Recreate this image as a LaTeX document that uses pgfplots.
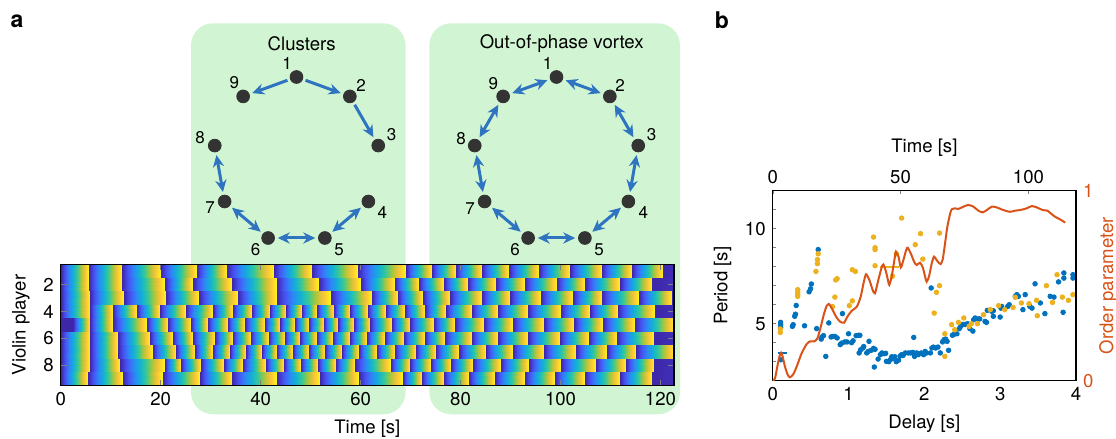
\documentclass[border=0pt]{standalone}
\usepackage{pgfplots}
\pgfplotsset{compat=1.18}
\usepackage{fontspec}
\setmainfont{TeX Gyre Heros}
\usetikzlibrary{arrows.meta}
\definecolor{matblue}{RGB}{0,114,189}
\definecolor{matyellow}{RGB}{237,177,32}
\definecolor{matorange}{RGB}{217,83,25}
\definecolor{arrowblue}{RGB}{46,116,192}
\definecolor{boxgreen}{RGB}{209,245,210}
\definecolor{nodegray}{RGB}{51,51,51}
\pgfplotsset{
  every tick label/.append style={font=\fontsize{9.3}{11}\selectfont},
  every axis label/.append style={font=\fontsize{9.3}{11}\selectfont},
  /pgf/number format/assume math mode=true,
}
\begin{document}
\begin{tikzpicture}[font=\fontsize{9.3}{11}\selectfont]
\useasboundingbox (0,0) rectangle (558pt,219.5pt);
\begin{scope}[x=0.5pt,y=-0.5pt,shift={(0pt,219.5pt)}]
\fill[boxgreen, rounded corners=11pt] (191,23.3) rectangle (405.5,414.3);
\fill[boxgreen, rounded corners=11pt] (429.3,23.3) rectangle (680,414.3);
\node[font=\fontsize{11.5}{13}\selectfont\bfseries] at (17,21) {a};
\node[font=\fontsize{11.5}{13}\selectfont\bfseries] at (722,20) {b};
\end{scope}

% ---------- network diagrams ----------
\begin{axis}[at={(0pt,0pt)}, anchor=south west, scale only axis, width=558pt, height=219.5pt,
  xmin=0, xmax=1116, ymin=0, ymax=439, y dir=reverse, hide axis, clip=false]
\addplot[quiver={u=\thisrow{u},v=\thisrow{v}}, arrows={-Stealth[length=6pt,width=5.6pt]}, arrowblue, line width=1.5pt] table {
x y u v
305.57 80.30 35.21 12.82
287.43 80.30 -35.21 12.82
354.68 104.78 18.74 32.45
};
\addplot[quiver={u=\thisrow{u},v=\thisrow{v}}, arrows={Stealth[length=6pt,width=5.6pt]-Stealth[length=6pt,width=5.6pt]}, arrowblue, line width=1.5pt] table {
x y u v
216.44 155.09 6.51 36.90
232.01 207.71 28.70 24.09
277.76 238.00 37.47 0
332.28 231.79 28.70 -24.09
565.57 80.30 35.21 12.82
614.68 104.78 18.74 32.45
636.56 155.09 -6.51 36.90
620.99 207.71 -28.70 24.09
575.24 238.00 -37.47 0
520.72 231.79 -28.70 -24.09
482.94 192.00 -6.51 -36.90
479.59 137.23 18.74 -32.45
512.22 93.12 35.21 -12.82
};
\addplot[only marks, mark=*, mark size=3.2pt, nodegray] coordinates {
(296.5,77.0) (349.85,96.42) (378.24,145.59) (368.38,201.5) (324.89,238.0)
(268.11,238.0) (224.62,201.5) (214.76,145.59) (243.15,96.42)
(556.5,77.0) (609.85,96.42) (638.24,145.59) (628.38,201.5) (584.89,238.0)
(528.11,238.0) (484.62,201.5) (474.76,145.59) (503.15,96.42)
};
\addplot[only marks, mark=none, nodes near coords, point meta=explicit symbolic,
  nodes near coords style={anchor=center, font=\fontsize{8.5}{10}\selectfont}] coordinates {
(287,63.3) [1] (361,85) [2] (391.7,134.3) [3] (382.3,212.7) [4] (339,250) [5]
(255.7,250) [6] (210,208) [7] (200,138) [8] (234.3,82.7) [9]
(547.7,63.3) [1] (620,85) [2] (651.7,134.3) [3] (643.3,212) [4] (599,250) [5]
(515,250) [6] (470,208.3) [7] (461,138.3) [8] (493.3,83.3) [9]
};
\node at (axis cs:301.7,43.3) {Clusters};
\node at (axis cs:561.7,43.3) {Out-of-phase vortex};
\end{axis}

% ---------- heatmap ----------
\begin{axis}[at={(30.35pt,26.65pt)}, anchor=south west, scale only axis,
  width=306.65pt, height=60.7pt, view={0}{90},
  xmin=0, xmax=122.7, ymin=0.5, ymax=9.5, y dir=reverse,
  xtick={0,20,...,120}, ytick={2,4,6,8},
  tick align=inside, major tick length=3pt, axis on top,
  xlabel={Time [s]}, ylabel={Violin player},
  axis line style={line width=0.7pt},
  point meta min=0, point meta max=1,
  colormap={parula}{rgb=(0.2422,0.1504,0.6603) rgb=(0.2810,0.3228,0.9579) rgb=(0.1786,0.5289,0.9682) rgb=(0.0689,0.6948,0.8394) rgb=(0.2161,0.7843,0.5923) rgb=(0.6720,0.7793,0.2227) rgb=(0.9970,0.7659,0.2199) rgb=(0.9769,0.9839,0.0805)},
]
% row 1
\addplot3[surf, shader=interp, mesh/rows=2] coordinates {
(0,0.5,0) (5.7,0.5,1) (5.7,0.5,0) (12.3,0.5,1) (12.3,0.5,0) (20,0.5,1) (20,0.5,0) (27.3,0.5,1) (27.3,0.5,0) (33.2,0.5,1) (33.2,0.5,0) (42.7,0.5,1) (42.7,0.5,0) (50.3,0.5,1) (50.3,0.5,0) (59.4,0.5,1) (59.4,0.5,0) (69.1,0.5,1) (69.1,0.5,0) (74.3,0.5,1) (74.3,0.5,0) (79.1,0.5,1) (79.1,0.5,0) (84.2,0.5,1) (84.2,0.5,0) (89.7,0.5,1) (89.7,0.5,0) (95.6,0.5,1) (95.6,0.5,0) (101.9,0.5,1) (101.9,0.5,0) (108.2,0.5,1) (108.2,0.5,0) (114.2,0.5,1) (114.2,0.5,0) (120.5,0.5,1) (120.5,0.5,0) (122.7,0.5,0.03)
(0,1.5,0) (5.7,1.5,1) (5.7,1.5,0) (12.3,1.5,1) (12.3,1.5,0) (20,1.5,1) (20,1.5,0) (27.3,1.5,1) (27.3,1.5,0) (33.2,1.5,1) (33.2,1.5,0) (42.7,1.5,1) (42.7,1.5,0) (50.3,1.5,1) (50.3,1.5,0) (59.4,1.5,1) (59.4,1.5,0) (69.1,1.5,1) (69.1,1.5,0) (74.3,1.5,1) (74.3,1.5,0) (79.1,1.5,1) (79.1,1.5,0) (84.2,1.5,1) (84.2,1.5,0) (89.7,1.5,1) (89.7,1.5,0) (95.6,1.5,1) (95.6,1.5,0) (101.9,1.5,1) (101.9,1.5,0) (108.2,1.5,1) (108.2,1.5,0) (114.2,1.5,1) (114.2,1.5,0) (120.5,1.5,1) (120.5,1.5,0) (122.7,1.5,0.03)
};
% row 2
\addplot3[surf, shader=interp, mesh/rows=2] coordinates {
(0,1.5,0) (5.7,1.5,1) (5.7,1.5,0) (12.3,1.5,1) (12.3,1.5,0) (20.9,1.5,1) (20.9,1.5,0) (26.5,1.5,1) (26.5,1.5,0) (34.3,1.5,1) (34.3,1.5,0) (43.3,1.5,1) (43.3,1.5,0) (51.7,1.5,1) (51.7,1.5,0) (60,1.5,1) (60,1.5,0) (66.8,1.5,1) (66.8,1.5,0) (71.7,1.5,1) (71.7,1.5,0) (76.7,1.5,1) (76.7,1.5,0) (81.4,1.5,1) (81.4,1.5,0) (87.1,1.5,1) (87.1,1.5,0) (92.9,1.5,1) (92.9,1.5,0) (99.2,1.5,1) (99.2,1.5,0) (104.9,1.5,1) (104.9,1.5,0) (111.9,1.5,1) (111.9,1.5,0) (118.3,1.5,1) (118.3,1.5,0) (122.7,1.5,0.03)
(0,2.5,0) (5.7,2.5,1) (5.7,2.5,0) (12.3,2.5,1) (12.3,2.5,0) (20.9,2.5,1) (20.9,2.5,0) (26.5,2.5,1) (26.5,2.5,0) (34.3,2.5,1) (34.3,2.5,0) (43.3,2.5,1) (43.3,2.5,0) (51.7,2.5,1) (51.7,2.5,0) (60,2.5,1) (60,2.5,0) (66.8,2.5,1) (66.8,2.5,0) (71.7,2.5,1) (71.7,2.5,0) (76.7,2.5,1) (76.7,2.5,0) (81.4,2.5,1) (81.4,2.5,0) (87.1,2.5,1) (87.1,2.5,0) (92.9,2.5,1) (92.9,2.5,0) (99.2,2.5,1) (99.2,2.5,0) (104.9,2.5,1) (104.9,2.5,0) (111.9,2.5,1) (111.9,2.5,0) (118.3,2.5,1) (118.3,2.5,0) (122.7,2.5,0.03)
};
% row 3
\addplot3[surf, shader=interp, mesh/rows=2] coordinates {
(0,2.5,0) (5.8,2.5,1) (5.8,2.5,0) (12.6,2.5,1) (12.6,2.5,0) (21.1,2.5,1) (21.1,2.5,0) (27.7,2.5,1) (27.7,2.5,0) (35.5,2.5,1) (35.5,2.5,0) (43.3,2.5,1) (43.3,2.5,0) (54,2.5,1) (54,2.5,0) (62.3,2.5,1) (62.3,2.5,0) (67.4,2.5,1) (67.4,2.5,0) (72.4,2.5,1) (72.4,2.5,0) (77.9,2.5,1) (77.9,2.5,0) (84.2,2.5,1) (84.2,2.5,0) (89.9,2.5,1) (89.9,2.5,0) (96.1,2.5,1) (96.1,2.5,0) (102.4,2.5,1) (102.4,2.5,0) (108.3,2.5,1) (108.3,2.5,0) (115.7,2.5,1) (115.7,2.5,0) (122.3,2.5,1) (122.3,2.5,0) (122.7,2.5,0.02)
(0,3.5,0) (5.8,3.5,1) (5.8,3.5,0) (12.6,3.5,1) (12.6,3.5,0) (21.1,3.5,1) (21.1,3.5,0) (27.7,3.5,1) (27.7,3.5,0) (35.5,3.5,1) (35.5,3.5,0) (43.3,3.5,1) (43.3,3.5,0) (54,3.5,1) (54,3.5,0) (62.3,3.5,1) (62.3,3.5,0) (67.4,3.5,1) (67.4,3.5,0) (72.4,3.5,1) (72.4,3.5,0) (77.9,3.5,1) (77.9,3.5,0) (84.2,3.5,1) (84.2,3.5,0) (89.9,3.5,1) (89.9,3.5,0) (96.1,3.5,1) (96.1,3.5,0) (102.4,3.5,1) (102.4,3.5,0) (108.3,3.5,1) (108.3,3.5,0) (115.7,3.5,1) (115.7,3.5,0) (122.3,3.5,1) (122.3,3.5,0) (122.7,3.5,0.02)
};
% row 4
\addplot3[surf, shader=interp, mesh/rows=2] coordinates {
(0,3.5,0) (5.8,3.5,1) (5.8,3.5,0) (10.5,3.5,1) (10.5,3.5,0) (15.3,3.5,1) (15.3,3.5,0) (19.8,3.5,1) (19.8,3.5,0) (25,3.5,1) (25,3.5,0) (30.5,3.5,1) (30.5,3.5,0) (34.5,3.5,1) (34.5,3.5,0) (38.3,3.5,1) (38.3,3.5,0) (41.9,3.5,1) (41.9,3.5,0) (45,3.5,1) (45,3.5,0) (48.2,3.5,1) (48.2,3.5,0) (51.3,3.5,1) (51.3,3.5,0) (54.6,3.5,1) (54.6,3.5,0) (57.9,3.5,1) (57.9,3.5,0) (61.4,3.5,1) (61.4,3.5,0) (65,3.5,1) (65,3.5,0) (68.8,3.5,1) (68.8,3.5,0) (72.8,3.5,1) (72.8,3.5,0) (77,3.5,1) (77,3.5,0) (82.2,3.5,1) (82.2,3.5,0) (87.5,3.5,1) (87.5,3.5,0) (93.4,3.5,1) (93.4,3.5,0) (100.1,3.5,1) (100.1,3.5,0) (105.9,3.5,1) (105.9,3.5,0) (111.4,3.5,1) (111.4,3.5,0) (118.9,3.5,1) (118.9,3.5,0) (122.7,3.5,0.03)
(0,4.5,0) (5.8,4.5,1) (5.8,4.5,0) (10.5,4.5,1) (10.5,4.5,0) (15.3,4.5,1) (15.3,4.5,0) (19.8,4.5,1) (19.8,4.5,0) (25,4.5,1) (25,4.5,0) (30.5,4.5,1) (30.5,4.5,0) (34.5,4.5,1) (34.5,4.5,0) (38.3,4.5,1) (38.3,4.5,0) (41.9,4.5,1) (41.9,4.5,0) (45,4.5,1) (45,4.5,0) (48.2,4.5,1) (48.2,4.5,0) (51.3,4.5,1) (51.3,4.5,0) (54.6,4.5,1) (54.6,4.5,0) (57.9,4.5,1) (57.9,4.5,0) (61.4,4.5,1) (61.4,4.5,0) (65,4.5,1) (65,4.5,0) (68.8,4.5,1) (68.8,4.5,0) (72.8,4.5,1) (72.8,4.5,0) (77,4.5,1) (77,4.5,0) (82.2,4.5,1) (82.2,4.5,0) (87.5,4.5,1) (87.5,4.5,0) (93.4,4.5,1) (93.4,4.5,0) (100.1,4.5,1) (100.1,4.5,0) (105.9,4.5,1) (105.9,4.5,0) (111.4,4.5,1) (111.4,4.5,0) (118.9,4.5,1) (118.9,4.5,0) (122.7,4.5,0.03)
};
% row 5
\addplot3[surf, shader=interp, mesh/rows=2] coordinates {
(0,4.5,0) (2.5,4.5,0) (5.9,4.5,1) (5.9,4.5,0) (10.5,4.5,1) (10.5,4.5,0) (17.3,4.5,1) (17.3,4.5,0) (21.5,4.5,1) (21.5,4.5,0) (26.1,4.5,1) (26.1,4.5,0) (29.5,4.5,1) (29.5,4.5,0) (33.5,4.5,1) (33.5,4.5,0) (36.8,4.5,1) (36.8,4.5,0) (40.8,4.5,1) (40.8,4.5,0) (43.9,4.5,1) (43.9,4.5,0) (46.8,4.5,1) (46.8,4.5,0) (49.6,4.5,1) (49.6,4.5,0) (52.6,4.5,1) (52.6,4.5,0) (55.5,4.5,1) (55.5,4.5,0) (58.6,4.5,1) (58.6,4.5,0) (61.9,4.5,1) (61.9,4.5,0) (66.3,4.5,1) (66.3,4.5,0) (69.9,4.5,1) (69.9,4.5,0) (74.6,4.5,1) (74.6,4.5,0) (78.8,4.5,1) (78.8,4.5,0) (84.7,4.5,1) (84.7,4.5,0) (90.4,4.5,1) (90.4,4.5,0) (96.6,4.5,1) (96.6,4.5,0) (102.7,4.5,1) (102.7,4.5,0) (108.4,4.5,1) (108.4,4.5,0) (114.9,4.5,1) (114.9,4.5,0) (122.7,4.5,0.97)
(0,5.5,0) (2.5,5.5,0) (5.9,5.5,1) (5.9,5.5,0) (10.5,5.5,1) (10.5,5.5,0) (17.3,5.5,1) (17.3,5.5,0) (21.5,5.5,1) (21.5,5.5,0) (26.1,5.5,1) (26.1,5.5,0) (29.5,5.5,1) (29.5,5.5,0) (33.5,5.5,1) (33.5,5.5,0) (36.8,5.5,1) (36.8,5.5,0) (40.8,5.5,1) (40.8,5.5,0) (43.9,5.5,1) (43.9,5.5,0) (46.8,5.5,1) (46.8,5.5,0) (49.6,5.5,1) (49.6,5.5,0) (52.6,5.5,1) (52.6,5.5,0) (55.5,5.5,1) (55.5,5.5,0) (58.6,5.5,1) (58.6,5.5,0) (61.9,5.5,1) (61.9,5.5,0) (66.3,5.5,1) (66.3,5.5,0) (69.9,5.5,1) (69.9,5.5,0) (74.6,5.5,1) (74.6,5.5,0) (78.8,5.5,1) (78.8,5.5,0) (84.7,5.5,1) (84.7,5.5,0) (90.4,5.5,1) (90.4,5.5,0) (96.6,5.5,1) (96.6,5.5,0) (102.7,5.5,1) (102.7,5.5,0) (108.4,5.5,1) (108.4,5.5,0) (114.9,5.5,1) (114.9,5.5,0) (122.7,5.5,0.97)
};
% row 6
\addplot3[surf, shader=interp, mesh/rows=2] coordinates {
(0,5.5,0) (5.9,5.5,1) (5.9,5.5,0) (11.5,5.5,1) (11.5,5.5,0) (17.8,5.5,1) (17.8,5.5,0) (22.5,5.5,1) (22.5,5.5,0) (26.5,5.5,1) (26.5,5.5,0) (30.8,5.5,1) (30.8,5.5,0) (34.5,5.5,1) (34.5,5.5,0) (38.1,5.5,1) (38.1,5.5,0) (41.7,5.5,1) (41.7,5.5,0) (44.9,5.5,1) (44.9,5.5,0) (47.9,5.5,1) (47.9,5.5,0) (51.3,5.5,1) (51.3,5.5,0) (54.5,5.5,1) (54.5,5.5,0) (57.9,5.5,1) (57.9,5.5,0) (61.3,5.5,1) (61.3,5.5,0) (64.8,5.5,1) (64.8,5.5,0) (68.6,5.5,1) (68.6,5.5,0) (72.8,5.5,1) (72.8,5.5,0) (76.9,5.5,1) (76.9,5.5,0) (82.3,5.5,1) (82.3,5.5,0) (87.5,5.5,1) (87.5,5.5,0) (93.4,5.5,1) (93.4,5.5,0) (99.9,5.5,1) (99.9,5.5,0) (105.7,5.5,1) (105.7,5.5,0) (111.3,5.5,1) (111.3,5.5,0) (118.7,5.5,1) (118.7,5.5,0) (122.7,5.5,0.03)
(0,6.5,0) (5.9,6.5,1) (5.9,6.5,0) (11.5,6.5,1) (11.5,6.5,0) (17.8,6.5,1) (17.8,6.5,0) (22.5,6.5,1) (22.5,6.5,0) (26.5,6.5,1) (26.5,6.5,0) (30.8,6.5,1) (30.8,6.5,0) (34.5,6.5,1) (34.5,6.5,0) (38.1,6.5,1) (38.1,6.5,0) (41.7,6.5,1) (41.7,6.5,0) (44.9,6.5,1) (44.9,6.5,0) (47.9,6.5,1) (47.9,6.5,0) (51.3,6.5,1) (51.3,6.5,0) (54.5,6.5,1) (54.5,6.5,0) (57.9,6.5,1) (57.9,6.5,0) (61.3,6.5,1) (61.3,6.5,0) (64.8,6.5,1) (64.8,6.5,0) (68.6,6.5,1) (68.6,6.5,0) (72.8,6.5,1) (72.8,6.5,0) (76.9,6.5,1) (76.9,6.5,0) (82.3,6.5,1) (82.3,6.5,0) (87.5,6.5,1) (87.5,6.5,0) (93.4,6.5,1) (93.4,6.5,0) (99.9,6.5,1) (99.9,6.5,0) (105.7,6.5,1) (105.7,6.5,0) (111.3,6.5,1) (111.3,6.5,0) (118.7,6.5,1) (118.7,6.5,0) (122.7,6.5,0.03)
};
% row 7
\addplot3[surf, shader=interp, mesh/rows=2] coordinates {
(0,6.5,0) (5.9,6.5,1) (5.9,6.5,0) (11.5,6.5,1) (11.5,6.5,0) (18.5,6.5,1) (18.5,6.5,0) (23.1,6.5,1) (23.1,6.5,0) (26.8,6.5,1) (26.8,6.5,0) (30.5,6.5,1) (30.5,6.5,0) (33.8,6.5,1) (33.8,6.5,0) (37,6.5,1) (37,6.5,0) (40.2,6.5,1) (40.2,6.5,0) (43.3,6.5,1) (43.3,6.5,0) (46.4,6.5,1) (46.4,6.5,0) (49.6,6.5,1) (49.6,6.5,0) (52.9,6.5,1) (52.9,6.5,0) (56.3,6.5,1) (56.3,6.5,0) (59.6,6.5,1) (59.6,6.5,0) (63.3,6.5,1) (63.3,6.5,0) (66.8,6.5,1) (66.8,6.5,0) (71,6.5,1) (71,6.5,0) (75,6.5,1) (75,6.5,0) (79.6,6.5,1) (79.6,6.5,0) (85.1,6.5,1) (85.1,6.5,0) (90.4,6.5,1) (90.4,6.5,0) (96.6,6.5,1) (96.6,6.5,0) (103.1,6.5,1) (103.1,6.5,0) (109.3,6.5,1) (109.3,6.5,0) (115.1,6.5,1) (115.1,6.5,0) (122.7,6.5,0.97)
(0,7.5,0) (5.9,7.5,1) (5.9,7.5,0) (11.5,7.5,1) (11.5,7.5,0) (18.5,7.5,1) (18.5,7.5,0) (23.1,7.5,1) (23.1,7.5,0) (26.8,7.5,1) (26.8,7.5,0) (30.5,7.5,1) (30.5,7.5,0) (33.8,7.5,1) (33.8,7.5,0) (37,7.5,1) (37,7.5,0) (40.2,7.5,1) (40.2,7.5,0) (43.3,7.5,1) (43.3,7.5,0) (46.4,7.5,1) (46.4,7.5,0) (49.6,7.5,1) (49.6,7.5,0) (52.9,7.5,1) (52.9,7.5,0) (56.3,7.5,1) (56.3,7.5,0) (59.6,7.5,1) (59.6,7.5,0) (63.3,7.5,1) (63.3,7.5,0) (66.8,7.5,1) (66.8,7.5,0) (71,7.5,1) (71,7.5,0) (75,7.5,1) (75,7.5,0) (79.6,7.5,1) (79.6,7.5,0) (85.1,7.5,1) (85.1,7.5,0) (90.4,7.5,1) (90.4,7.5,0) (96.6,7.5,1) (96.6,7.5,0) (103.1,7.5,1) (103.1,7.5,0) (109.3,7.5,1) (109.3,7.5,0) (115.1,7.5,1) (115.1,7.5,0) (122.7,7.5,0.97)
};
% row 8
\addplot3[surf, shader=interp, mesh/rows=2] coordinates {
(0,7.5,0) (5.9,7.5,1) (5.9,7.5,0) (11.9,7.5,1) (11.9,7.5,0) (20.8,7.5,1) (20.8,7.5,0) (24,7.5,1) (24,7.5,0) (28.1,7.5,1) (28.1,7.5,0) (32.6,7.5,1) (32.6,7.5,0) (36.5,7.5,1) (36.5,7.5,0) (41.1,7.5,1) (41.1,7.5,0) (44.6,7.5,1) (44.6,7.5,0) (48,7.5,1) (48,7.5,0) (51.5,7.5,1) (51.5,7.5,0) (55,7.5,1) (55,7.5,0) (58.9,7.5,1) (58.9,7.5,0) (66,7.5,1) (66,7.5,0) (69.8,7.5,1) (69.8,7.5,0) (74,7.5,1) (74,7.5,0) (78,7.5,1) (78,7.5,0) (82.4,7.5,1) (82.4,7.5,0) (88.1,7.5,1) (88.1,7.5,0) (93.7,7.5,1) (93.7,7.5,0) (100.1,7.5,1) (100.1,7.5,0) (107.1,7.5,1) (107.1,7.5,0) (113.1,7.5,1) (113.1,7.5,0) (118.7,7.5,1) (118.7,7.5,0) (122.7,7.5,0.03)
(0,8.5,0) (5.9,8.5,1) (5.9,8.5,0) (11.9,8.5,1) (11.9,8.5,0) (20.8,8.5,1) (20.8,8.5,0) (24,8.5,1) (24,8.5,0) (28.1,8.5,1) (28.1,8.5,0) (32.6,8.5,1) (32.6,8.5,0) (36.5,8.5,1) (36.5,8.5,0) (41.1,8.5,1) (41.1,8.5,0) (44.6,8.5,1) (44.6,8.5,0) (48,8.5,1) (48,8.5,0) (51.5,8.5,1) (51.5,8.5,0) (55,8.5,1) (55,8.5,0) (58.9,8.5,1) (58.9,8.5,0) (66,8.5,1) (66,8.5,0) (69.8,8.5,1) (69.8,8.5,0) (74,8.5,1) (74,8.5,0) (78,8.5,1) (78,8.5,0) (82.4,8.5,1) (82.4,8.5,0) (88.1,8.5,1) (88.1,8.5,0) (93.7,8.5,1) (93.7,8.5,0) (100.1,8.5,1) (100.1,8.5,0) (107.1,8.5,1) (107.1,8.5,0) (113.1,8.5,1) (113.1,8.5,0) (118.7,8.5,1) (118.7,8.5,0) (122.7,8.5,0.03)
};
% row 9
\addplot3[surf, shader=interp, mesh/rows=2] coordinates {
(0,8.5,0) (5.5,8.5,1) (5.5,8.5,0) (12.5,8.5,1) (12.5,8.5,0) (20.5,8.5,1) (20.5,8.5,0) (27.9,8.5,1) (27.9,8.5,0) (34.2,8.5,1) (34.2,8.5,0) (43.2,8.5,1) (43.2,8.5,0) (51.9,8.5,1) (51.9,8.5,0) (59.7,8.5,1) (59.7,8.5,0) (68.4,8.5,1) (68.4,8.5,0) (72.2,8.5,1) (72.2,8.5,0) (76.6,8.5,1) (76.6,8.5,0) (81.6,8.5,1) (81.6,8.5,0) (86.9,8.5,1) (86.9,8.5,0) (92.9,8.5,1) (92.9,8.5,0) (98.8,8.5,1) (98.8,8.5,0) (104.9,8.5,1) (104.9,8.5,0) (111.8,8.5,1) (111.8,8.5,0) (118.3,8.5,1) (118.3,8.5,0) (122.7,8.5,0.03)
(0,9.5,0) (5.5,9.5,1) (5.5,9.5,0) (12.5,9.5,1) (12.5,9.5,0) (20.5,9.5,1) (20.5,9.5,0) (27.9,9.5,1) (27.9,9.5,0) (34.2,9.5,1) (34.2,9.5,0) (43.2,9.5,1) (43.2,9.5,0) (51.9,9.5,1) (51.9,9.5,0) (59.7,9.5,1) (59.7,9.5,0) (68.4,9.5,1) (68.4,9.5,0) (72.2,9.5,1) (72.2,9.5,0) (76.6,9.5,1) (76.6,9.5,0) (81.6,9.5,1) (81.6,9.5,0) (86.9,9.5,1) (86.9,9.5,0) (92.9,9.5,1) (92.9,9.5,0) (98.8,9.5,1) (98.8,9.5,0) (104.9,9.5,1) (104.9,9.5,0) (111.8,9.5,1) (111.8,9.5,0) (118.3,9.5,1) (118.3,9.5,0) (122.7,9.5,0.03)
};
\end{axis}

% ---------- panel b: scatter ----------
\begin{axis}[at={(386.35pt,29.15pt)}, anchor=south west, scale only axis,
  width=151.65pt, height=95pt,
  xmin=0, xmax=4, ymin=2, ymax=12,
  xtick={0,1,2,3,4}, ytick={5,10}, minor ytick={3,4,6,7,8,9,11},
  xtick pos=left, ytick pos=left,
  tick align=inside, major tick length=1.8pt, minor tick length=1.8pt,
  xtick style={draw=none},
  xlabel={Delay [s]}, ylabel={Period [s]},
  axis line style={line width=0.6pt},
]
\addplot[only marks, mark=*, mark size=1.15pt, matblue] coordinates {
(0.105,3.10) (0.105,5.07) (0.105,4.95) (0.105,4.80) (0.26,4.86) (0.27,4.95)
(0.29,5.39) (0.30,5.50) (0.31,5.96) (0.42,4.89) (0.48,6.68) (0.50,6.84) (0.51,7.09)
(0.60,8.90) (0.58,4.74) (0.64,4.19) (0.65,4.30) (0.67,4.37) (0.70,3.28) (0.74,5.04)
(0.77,4.30) (0.79,4.33) (0.82,4.33) (0.85,4.25) (0.92,5.53) (0.89,3.90) (0.91,3.98)
(0.95,4.04) (0.98,4.04) (1.00,4.47) (1.04,4.00) (1.06,4.10) (1.10,4.37) (1.13,4.39)
(1.15,4.39) (1.14,3.46) (1.16,3.63) (1.19,3.72) (1.20,3.80) (1.27,4.07) (1.24,3.46)
(1.26,3.54) (1.30,3.60) (1.33,3.70) (1.35,3.65) (1.34,2.72) (1.39,3.14) (1.42,3.37)
(1.44,3.46) (1.47,3.42) (1.49,3.44) (1.50,3.02) (1.53,3.00) (1.55,3.10) (1.57,3.26)
(1.59,3.18) (1.61,3.26) (1.63,3.00) (1.66,3.08) (1.68,3.30) (1.70,3.37) (1.72,3.33)
(1.75,3.46) (1.79,3.46) (1.82,3.46) (1.85,3.49) (1.87,3.28) (1.86,4.28) (1.90,3.46)
(1.92,3.37) (1.96,3.46) (1.99,3.37) (2.01,3.54) (2.03,3.46) (2.08,3.46) (2.09,6.88)
(2.10,3.72) (2.12,3.77) (2.15,3.72) (2.18,3.77) (2.21,3.46) (2.24,4.04) (2.26,4.16)
(2.28,4.19) (2.30,4.07) (2.32,3.60) (2.37,4.39) (2.39,4.44) (2.43,4.47) (2.46,4.74)
(2.48,4.86) (2.51,4.96) (2.54,4.96) (2.57,5.00) (2.60,4.74) (2.64,4.61) (2.65,5.21)
(2.67,5.30) (2.71,5.25) (2.73,5.25) (2.80,5.12) (2.82,5.07) (2.83,5.70) (2.89,5.65)
(2.91,5.68) (2.91,5.39) (3.00,5.35) (3.02,5.91) (3.01,5.82) (3.10,5.91) (3.12,6.00)
(3.20,6.44) (3.22,6.53) (3.24,6.44) (3.33,6.53) (3.30,5.74) (3.39,5.91) (3.42,5.82)
(3.46,7.10) (3.53,6.09) (3.59,5.53) (3.66,6.44) (3.71,6.40) (3.77,7.20) (3.83,5.60)
(3.84,7.40) (3.84,7.67) (3.96,7.58) (3.96,7.40)
};
\addplot[only marks, mark=*, mark size=1.15pt, matyellow] coordinates {
(0.10,4.72) (0.10,4.54) (0.33,6.79) (0.33,6.65) (0.33,6.53) (0.33,6.44)
(0.57,7.75) (0.59,8.16) (0.59,8.37) (0.60,8.68) (0.79,5.90) (0.82,6.40) (0.83,7.30)
(0.85,7.37) (1.01,5.95) (1.05,6.20) (1.05,7.84) (1.09,7.75) (1.33,9.56) (1.35,9.00)
(1.35,8.90) (1.35,8.05) (1.58,7.50) (1.63,8.68) (1.70,10.56) (1.88,9.16) (1.95,9.74)
(1.98,8.40) (2.13,5.56) (2.16,6.65) (2.20,7.00) (2.20,9.77) (2.27,3.28) (2.27,4.47)
(2.36,4.95) (2.40,4.68) (2.45,5.07) (2.52,5.30) (2.59,4.86) (2.62,5.00) (2.70,5.00)
(2.78,5.47) (2.87,5.74) (2.98,5.95) (3.06,5.74) (3.17,5.86) (3.20,6.39) (3.28,6.09)
(3.38,6.05) (3.48,6.23) (3.49,5.42) (3.61,7.00) (3.69,6.12) (3.75,7.58) (3.82,6.40)
(3.90,6.23) (3.96,6.53)
};
\addplot[matblue, line width=0.6pt] coordinates {(0.075,3.46) (0.185,3.46)};
\addplot[matyellow, line width=0.6pt] coordinates {(1.42,7.98) (1.66,7.98)};
\end{axis}

% ---------- panel b: order parameter ----------
\begin{axis}[at={(386.35pt,29.15pt)}, anchor=south west, scale only axis,
  width=151.65pt, height=95pt,
  xmin=0, xmax=118.6, ymin=0, ymax=1,
  xtick={0,50,100}, ytick={0,1},
  xtick pos=right, ytick pos=right, xticklabel pos=right, yticklabel pos=right,
  tick align=inside, major tick length=1.8pt,
  ytick style={draw=none},
  yticklabel style={text=matorange},
  xlabel={Time [s]}, ylabel={Order parameter},
  ylabel style={text=matorange}, ylabel shift=-4pt,
  axis line style={line width=0.6pt},
]
\addplot[matorange, line width=1pt, smooth, tension=0.4] coordinates {
(0,0) (0.9,0.012) (1.8,0.074) (2.6,0.126) (3.3,0.147) (3.9,0.126) (4.8,0.074) (5.9,0.03)
(6.8,0.018) (8.1,0.035) (9.6,0.082) (11.3,0.144) (13.3,0.193) (14.6,0.207) (16.2,0.207)
(17.5,0.223) (18.8,0.284) (20.1,0.354) (21.1,0.393) (22.0,0.404) (23.1,0.381) (24.8,0.337)
(26.3,0.311) (27.9,0.305) (29.2,0.337) (30.9,0.368) (32.9,0.389) (34.4,0.442) (35.5,0.512)
(36.5,0.56) (37.8,0.53) (39.1,0.477) (40.0,0.46) (41.3,0.53) (42.6,0.596) (43.3,0.612)
(44.3,0.574) (45.2,0.521) (45.6,0.504) (46.5,0.547) (47.8,0.653) (48.2,0.679) (49.2,0.653)
(50.1,0.596) (51.1,0.635) (52.2,0.688) (52.8,0.70) (54.0,0.67) (55.3,0.626) (56.3,0.609)
(57.6,0.621) (58.7,0.596) (59.6,0.547) (60.2,0.521) (61.1,0.547) (62.2,0.618) (63.1,0.653)
(64.1,0.635) (65.1,0.618) (65.7,0.614) (66.5,0.639) (67.4,0.723) (68.3,0.811) (69.4,0.88)
(70.0,0.902) (71.3,0.907) (72.6,0.904) (74.6,0.916) (76.5,0.925) (78.5,0.916) (80.4,0.895)
(82.1,0.886) (83.7,0.898) (85.7,0.916) (87.6,0.912) (90.2,0.898) (92.8,0.889) (94.8,0.895)
(96.7,0.898) (99.3,0.907) (101.3,0.919) (103.3,0.912) (105.6,0.898) (107.4,0.895)
(108.7,0.881) (110.4,0.863) (112.4,0.849) (114.4,0.832)
};
\end{axis}
\end{tikzpicture}
\end{document}
